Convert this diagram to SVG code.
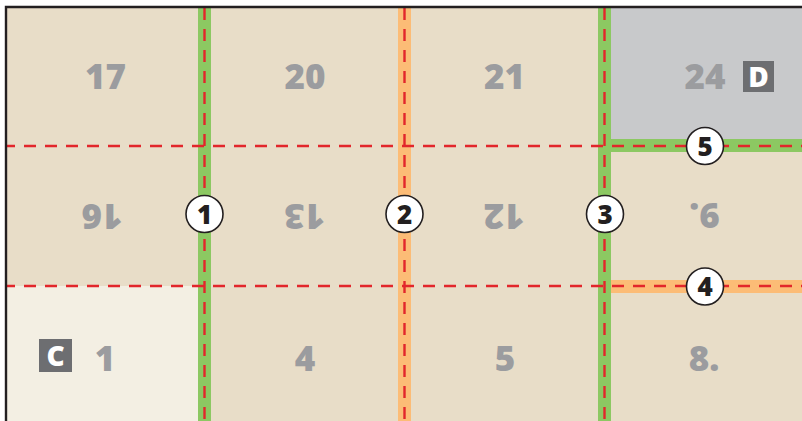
<svg xmlns="http://www.w3.org/2000/svg" width="802" height="421" viewBox="0 0 802 421">
<style>
.num{font-family:"Open Sans","Liberation Sans",sans-serif;font-weight:800;font-size:35px;fill:#9b9c9f;text-anchor:middle}
.cir{fill:#fff;stroke:#231f20;stroke-width:1.6}
.cl{font-family:"Open Sans","Liberation Sans",sans-serif;font-weight:800;font-size:26px;fill:#231f20;text-anchor:middle}
.box{fill:#6d6e71}
.bl{font-family:"Open Sans","Liberation Sans",sans-serif;font-weight:800;font-size:28px;fill:#fff;text-anchor:middle}
.green{stroke:#8cc862;stroke-width:13;fill:none}
.orange{stroke:#fcbc76;stroke-width:13;fill:none}
.dash{stroke:#e2262b;stroke-width:2.4;stroke-dasharray:12 9;fill:none}
</style>
<rect width="802" height="421" fill="#ffffff"/>
<g id="cells">
<rect x="6" y="7" width="796" height="414" fill="#e8ddc8"/>
<rect x="6" y="286" width="198" height="135" fill="#f3efe3"/>
<rect x="604" y="7" width="198" height="139" fill="#c8c9cb"/>
</g>
<g id="connectors">
<line class="orange" x1="604" y1="286.5" x2="802" y2="286.5"/>
<line class="green" x1="204.5" y1="7" x2="204.5" y2="421"/>
<line class="orange" x1="404.5" y1="7" x2="404.5" y2="421"/>
<line class="green" x1="604.5" y1="7" x2="604.5" y2="421"/>
<line class="green" x1="598" y1="145.5" x2="802" y2="145.5"/>
<line class="dash" x1="6" y1="146" x2="802" y2="146" stroke-dashoffset="3"/>
<line class="dash" x1="6" y1="286" x2="802" y2="286" stroke-dashoffset="3"/>
<line class="dash" x1="204.5" y1="8" x2="204.5" y2="421"/>
<line class="dash" x1="404.5" y1="8" x2="404.5" y2="421"/>
<line class="dash" x1="604.5" y1="8" x2="604.5" y2="421"/>
</g>
<g id="border">
<path d="M6 421 V7 H802" fill="none" stroke="#231f20" stroke-width="2.4"/>
</g>
<g id="n17"><text class="num" x="105.5" y="89">17</text></g>
<g id="n20"><text class="num" x="305" y="89">20</text></g>
<g id="n21"><text class="num" x="504.5" y="89">21</text></g>
<g id="n24"><text class="num" x="705" y="89">24</text>
<rect class="box" x="743" y="61" width="31" height="31"/><text class="bl" x="758.5" y="86.5">D</text></g>
<g id="n16"><text class="num" x="102" y="228.5" transform="rotate(180 102 216)">16</text></g>
<g id="n13"><text class="num" x="304.5" y="228.5" transform="rotate(180 304.5 216)">13</text></g>
<g id="n12"><text class="num" x="504" y="228.5" transform="rotate(180 504 216)">12</text></g>
<g id="n9"><text class="num" x="704.5" y="227.5" transform="rotate(180 704.5 215)">9.</text></g>
<g id="n1"><rect class="box" x="39" y="339" width="33" height="33"/><text class="bl" x="55.5" y="365.5">C</text>
<text class="num" x="105" y="370.5">1</text></g>
<g id="n4"><text class="num" x="305" y="370.5">4</text></g>
<g id="n5"><text class="num" x="505" y="370.5">5</text></g>
<g id="n8"><text class="num" x="704" y="370.5">8.</text></g>
<g id="c1"><circle class="cir" cx="204.5" cy="214" r="18.5"/><text class="cl" x="204.5" y="223.5">1</text></g>
<g id="c2"><circle class="cir" cx="404.5" cy="214" r="18.5"/><text class="cl" x="404.5" y="223.5">2</text></g>
<g id="c3"><circle class="cir" cx="605" cy="214" r="18.5"/><text class="cl" x="605" y="223.5">3</text></g>
<g id="c4"><circle class="cir" cx="705" cy="286.5" r="18.5"/><text class="cl" x="705" y="296">4</text></g>
<g id="c5"><circle class="cir" cx="705" cy="146" r="18.5"/><text class="cl" x="705" y="155.5">5</text></g>
</svg>
